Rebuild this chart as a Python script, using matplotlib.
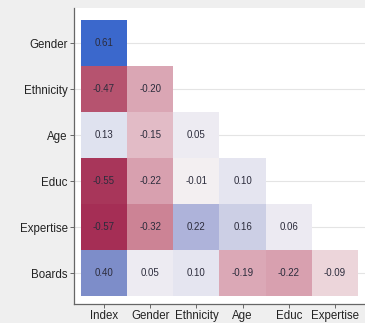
import numpy as np
import matplotlib.pyplot as plt
from matplotlib.colors import LinearSegmentedColormap

plt.rcParams['font.family'] = ['Liberation Sans', 'DejaVu Sans']

rows = ['Gender', 'Ethnicity', 'Age', 'Educ', 'Expertise', 'Boards']
cols = ['Index', 'Gender', 'Ethnicity', 'Age', 'Educ', 'Expertise']

# lower-triangle correlations, one list per row
r_gender = [0.61]
r_ethnicity = [-0.47, -0.20]
r_age = [0.13, -0.15, 0.05]
r_educ = [-0.55, -0.22, -0.01, 0.10]
r_expertise = [-0.57, -0.32, 0.22, 0.16, 0.06]
r_boards = [0.40, 0.05, 0.10, -0.19, -0.22, -0.09]

corr = np.full((6, 6), np.nan)
for i, r in enumerate([r_gender, r_ethnicity, r_age, r_educ, r_expertise, r_boards]):
    corr[i, :len(r)] = r

vlim = 0.62
stops = [(-0.62, '#9c1c48'), (-0.47, '#b75570'), (-0.30, '#cf8a9b'),
         (-0.19, '#dba9b7'), (-0.09, '#ecd5da'), (0.0, '#f4f3f5'),
         (0.06, '#eceaf2'), (0.13, '#dfe2ef'), (0.16, '#cdd0e6'),
         (0.22, '#aeb3da'), (0.40, '#7d8dc9'), (0.62, '#3866cc')]
cmap = LinearSegmentedColormap.from_list(
    'rb', [((v + vlim) / (2 * vlim), c) for v, c in stops])

fig = plt.figure(figsize=(3.65, 3.23), dpi=100, facecolor='#efefef')
ax = fig.add_axes([0.2027, 0.0588, 0.7973, 0.916])
ax.set_facecolor('white')

for y in range(6):
    ax.axhline(y, color='#e4e4e4', lw=0.8, zorder=0)

masked = np.ma.masked_invalid(corr)
ax.pcolormesh(np.arange(7) - 0.5, np.arange(7) - 0.5, masked,
              cmap=cmap, vmin=-vlim, vmax=vlim, zorder=1)

for i in range(6):
    for j in range(6):
        if not np.isnan(corr[i, j]):
            ax.text(j, i, f'{corr[i, j]:.2f}', ha='center', va='center',
                    fontsize=7, color='#2c2c3c', zorder=2)

ax.set_xlim(-0.65, 5.65)
ax.set_ylim(5.67, -0.76)
ax.set_xticks(range(6))
ax.set_xticklabels(cols)
ax.set_yticks(range(6))
ax.set_yticklabels(rows)
ax.tick_params(labelsize=8.3, length=3, width=0.7, color='#666666',
               labelcolor='#222222', pad=1.5)

for s in ['top', 'right']:
    ax.spines[s].set_visible(False)
for s in ['left', 'bottom']:
    ax.spines[s].set_color('#666666')
    ax.spines[s].set_linewidth(0.9)

fig.savefig('out.png', dpi=100, facecolor=fig.get_facecolor())
